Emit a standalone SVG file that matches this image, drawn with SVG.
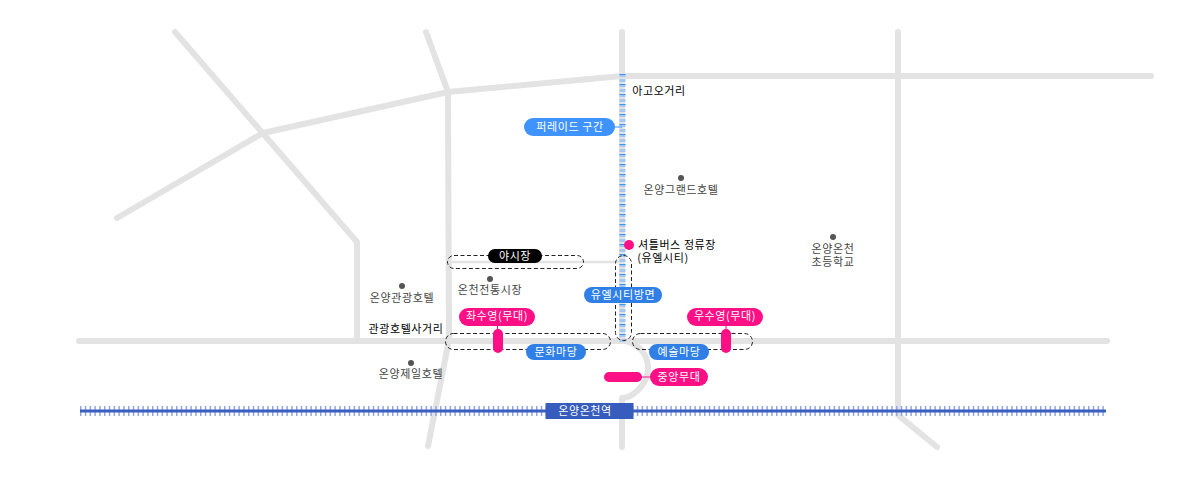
<svg xmlns="http://www.w3.org/2000/svg" width="1198" height="477" viewBox="0 0 1198 477">
<style>
text{font-family:"Noto Sans CJK KR","Noto Sans",sans-serif;font-size:11px;text-anchor:middle;letter-spacing:.6px}
.road{fill:none;stroke:#e3e3e3;stroke-width:6;stroke-linecap:round;stroke-linejoin:round}
.dash{fill:none;stroke:#222;stroke-width:1;stroke-dasharray:4 2.5}
.lead{stroke-width:1;fill:none}
.w{fill:#fff}.k{fill:#000}.g{fill:#444}
.dot{fill:#555}
.blue{fill:#2f7fe6}.pink{fill:#ff0f85}
</style>
<rect width="1198" height="477" fill="#fff"/>
<g id="roads">
<path class="road" d="M175 32L357 242V340"/>
<path class="road" d="M117 218L263 133L448 92L622 76H1151"/>
<path class="road" d="M426 32L448 92L449 340L428 446"/>
<path class="road" d="M622 32V340"/>
<path class="road" d="M898 32V415L937 447"/>
<path class="road" d="M79 341H1107"/>
<path class="road" d="M626 341C640 345 648 355 648 368C648 385 632 398 622 398V447"/>
<path d="M449 262H622" fill="none" stroke="#e3e3e3" stroke-width="2.500"/>
</g>
<g id="connectors">
<path d="M622.500 74V342" fill="none" stroke="#a6c8f0" stroke-width="6" stroke-dasharray="3 2"/>
<path d="M622.500 74V342" fill="none" stroke="#3b93ff" stroke-width="6" stroke-dasharray="1 9"/>
<path d="M80 411H1106" fill="none" stroke="#93a8e0" stroke-width="10" stroke-dasharray="1.500 3.300"/>
<path d="M80 411H1106" fill="none" stroke="#3a5fc0" stroke-width="3"/>
<rect class="dash" x="447.500" y="255.500" width="136" height="13" rx="6.500"/>
<rect class="dash" x="615.500" y="255.500" width="16" height="85" rx="8"/>
<rect class="dash" x="445.500" y="333.500" width="165" height="16" rx="8"/>
<rect class="dash" x="632.500" y="333.500" width="120" height="16" rx="8"/>
<path class="lead" stroke="#3b93ff" d="M610 127H622"/>
<path class="lead" stroke="#ff0f85" d="M497.500 320V330M726 320V330M640 377H652"/>
</g>
<g id="parade"><rect x="524" y="118" width="91" height="18" rx="9" fill="#3f93ff"/><text class="w" x="570" y="131">퍼레이드 구간</text></g>
<g id="agoyo"><text class="k" x="659" y="95">아고오거리</text></g>
<g id="grand-hotel"><circle class="dot" cx="681" cy="178" r="3"/><text class="g" x="681" y="194">온양그랜드호텔</text></g>
<g id="shuttle"><circle class="pink" cx="629" cy="245" r="5"/><text class="k" x="677" y="249">셔틀버스 정류장</text><text class="k" x="663" y="262">(유엘시티)</text></g>
<g id="school"><circle class="dot" cx="833" cy="237" r="3"/><text class="g" x="833" y="253">온양온천</text><text class="g" x="833" y="266">초등학교</text></g>
<g id="night-market"><rect x="488" y="249" width="54" height="14" rx="7" fill="#000"/><text class="w" x="515" y="260">야시장</text></g>
<g id="market"><circle class="dot" cx="490" cy="279" r="3"/><text class="g" x="490" y="294">온천전통시장</text></g>
<g id="gwanggwang-hotel"><circle class="dot" cx="402" cy="286" r="3"/><text class="g" x="402" y="302">온양관광호텔</text></g>
<g id="junction"><text class="k" x="406" y="333">관광호텔사거리</text></g>
<g id="jeil-hotel"><circle class="dot" cx="411" cy="363" r="3"/><text class="g" x="411" y="378">온양제일호텔</text></g>
<g id="uel"><rect x="584" y="287" width="78" height="16" rx="8" class="blue"/><text class="w" x="623" y="299">유엘시티방면</text></g>
<g id="left-stage"><rect x="459" y="308" width="76" height="18" rx="9" class="pink"/><text class="w" x="497" y="320">좌수영(무대)</text><rect x="493" y="329" width="10" height="24" rx="5" class="pink"/></g>
<g id="right-stage"><rect x="687" y="308" width="76" height="18" rx="9" class="pink"/><text class="w" x="725" y="320">우수영(무대)</text><rect x="721" y="329" width="10" height="24" rx="5" class="pink"/></g>
<g id="culture"><rect x="526" y="344" width="60" height="16" rx="8" class="blue"/><text class="w" x="556" y="356">문화마당</text></g>
<g id="art"><rect x="649" y="344" width="60" height="16" rx="8" class="blue"/><text class="w" x="679" y="356">예술마당</text></g>
<g id="center-stage"><rect x="604" y="372" width="38" height="10" rx="5" class="pink"/><rect x="650" y="368" width="58" height="18" rx="9" class="pink"/><text class="w" x="679" y="381">중앙무대</text></g>
<g id="station"><rect x="545.500" y="403" width="88" height="16" fill="#365cbd"/><text class="w" x="585" y="415">온양온천역</text></g>
</svg>
